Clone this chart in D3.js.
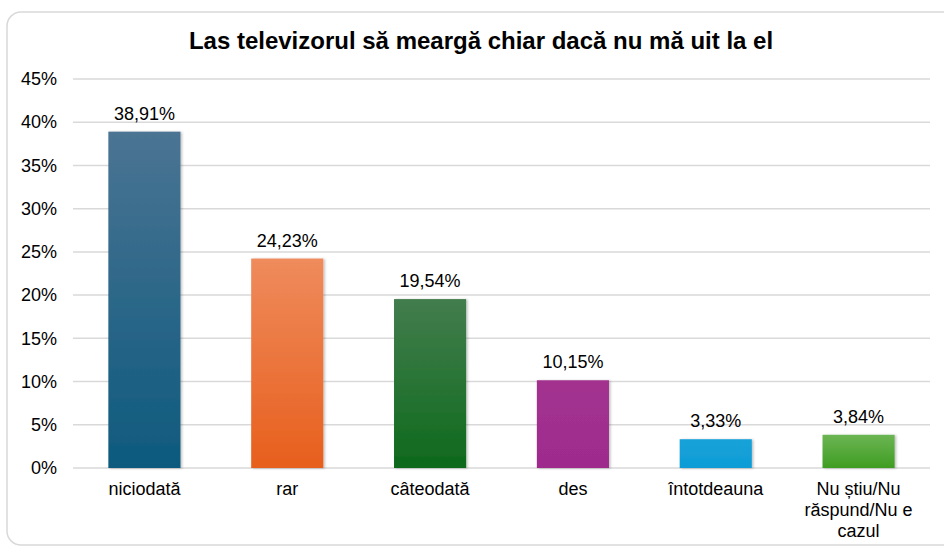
<!DOCTYPE html>
<html>
<head>
<meta charset="utf-8">
<script src="https://cdn.jsdelivr.net/npm/d3@7"></script>
<style>
  body { margin: 0; background: #fff; }
  text { font-family: "Liberation Sans", Arial, sans-serif; fill: #000; }
</style>
</head>
<body>
<div id="my_dataviz"></div>
<script>
var categories = ["niciodată", "rar", "câteodată", "des", "întotdeauna", "Nu știu/Nu răspund/Nu e cazul"],
    catLines = [["niciodată"], ["rar"], ["câteodată"], ["des"], ["întotdeauna"], ["Nu știu/Nu", "răspund/Nu e", "cazul"]],
    values = [38.91, 24.23, 19.54, 10.15, 3.33, 3.84],
    valueLabels = ["38,91%", "24,23%", "19,54%", "10,15%", "3,33%", "3,84%"],
    yTicks = [0, 5, 10, 15, 20, 25, 30, 35, 40, 45],
    topColors = ["#4b7493", "#ef8b5c", "#437d4e", "#a3338f", "#16a2d9", "#6cb553"],
    bottomColors = ["#0d5a7e", "#e75f1d", "#0e6a1c", "#9e2b8e", "#0f9cd6", "#3f9d22"];

var width = 944, height = 549,
    margin = {top: 79, left: 73, right: 14, bottom: 81};  // plot 73..930, 79..468

var svg = d3.select("#my_dataviz")
    .append("svg")
    .attr("width", width)
    .attr("height", height);

var defs = svg.append("defs");
values.forEach(function(v, i) {
    var g = defs.append("linearGradient")
        .attr("id", "grad" + i)
        .attr("x1", 0).attr("y1", 0).attr("x2", 0).attr("y2", 1);
    g.append("stop").attr("offset", "0%").attr("stop-color", topColors[i]);
    g.append("stop").attr("offset", "100%").attr("stop-color", bottomColors[i]);
});
var f = defs.append("filter").attr("id", "shadow")
    .attr("x", "-20%").attr("y", "-20%").attr("width", "140%").attr("height", "140%");
f.append("feDropShadow").attr("dx", 1.5).attr("dy", 0.5).attr("stdDeviation", 1.2)
    .attr("flood-color", "#000").attr("flood-opacity", 0.25);

// outer frame
svg.append("rect")
    .attr("x", 7).attr("y", 12)
    .attr("width", 950).attr("height", 533)
    .attr("rx", 14).attr("ry", 14)
    .attr("fill", "#fff")
    .attr("stroke", "#d9d9d9")
    .attr("stroke-width", 1.5);

svg.append("text")
    .attr("x", 481).attr("y", 49)
    .attr("text-anchor", "middle")
    .style("font-size", "24px")
    .style("font-weight", "bold")
    .text("Las televizorul să meargă chiar dacă nu mă uit la el");

var x = d3.scaleBand()
    .domain(categories)
    .range([margin.left, width - margin.right])
    .paddingInner(0.495)
    .paddingOuter(0.2475);

var y = d3.scaleLinear()
    .domain([0, 45])
    .range([height - margin.bottom, margin.top]);

// gridlines
svg.append("g")
    .selectAll("line")
    .data(yTicks)
    .join("line")
    .attr("x1", margin.left).attr("x2", width - margin.right)
    .attr("y1", function(d) { return y(d); })
    .attr("y2", function(d) { return y(d); })
    .attr("stroke", "#d9d9d9")
    .attr("stroke-width", 1.5);

var yAxis = svg.append("g")
    .attr("transform", "translate(" + (margin.left - 16) + ",0)")
    .call(d3.axisLeft(y).tickValues(yTicks).tickSize(0).tickPadding(0)
        .tickFormat(function(d) { return d + "%"; }));
yAxis.select(".domain").remove();
yAxis.selectAll("text")
    .style("font-size", "18px")
    .style("font-family", "Liberation Sans, Arial, sans-serif");

svg.append("g")
    .selectAll("rect")
    .data(values)
    .join("rect")
    .attr("x", function(d, i) { return x(categories[i]); })
    .attr("y", function(d) { return y(d); })
    .attr("width", x.bandwidth())
    .attr("height", function(d) { return y(0) - y(d); })
    .attr("fill", function(d, i) { return "url(#grad" + i + ")"; })
    .attr("filter", "url(#shadow)");

svg.append("g")
    .selectAll("text")
    .data(values)
    .join("text")
    .attr("x", function(d, i) { return x(categories[i]) + x.bandwidth() / 2; })
    .attr("y", function(d) { return y(d) - 12; })
    .attr("text-anchor", "middle")
    .style("font-size", "18px")
    .text(function(d, i) { return valueLabels[i]; });

var xl = svg.append("g")
    .selectAll("text")
    .data(categories)
    .join("text")
    .attr("x", function(d) { return x(d) + x.bandwidth() / 2; })
    .attr("y", 495)
    .attr("text-anchor", "middle")
    .style("font-size", "18px");
xl.selectAll("tspan")
    .data(function(d, i) { return catLines[i]; })
    .join("tspan")
    .attr("x", function() { return d3.select(this.parentNode).attr("x"); })
    .attr("dy", function(d, j) { return j === 0 ? 0 : 21; })
    .text(function(d) { return d; });
</script>
</body>
</html>
